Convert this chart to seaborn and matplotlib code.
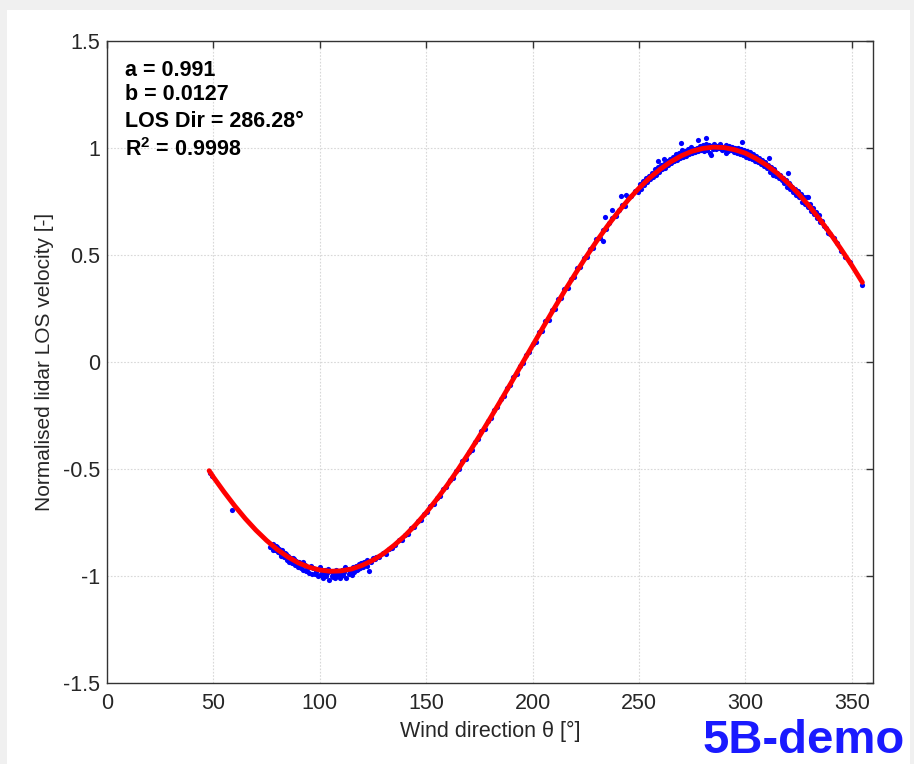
import matplotlib
matplotlib.use("Agg")
import matplotlib.pyplot as plt
import seaborn as sns
import pandas as pd
from matplotlib.patches import Rectangle

# ---------------- data ----------------
fit_theta = [48, 50, 55, 60, 65, 70, 75, 80, 85, 90, 95, 100, 105, 110, 115, 120,
             125, 130, 135, 140, 145, 150, 155, 160, 165, 170, 175, 180, 185, 190,
             195, 200, 205, 210, 215, 220, 225, 230, 235, 240, 245, 250, 255, 260,
             265, 270, 275, 280, 285, 290, 295, 300, 305, 310, 315, 320, 325, 330,
             335, 340, 345, 350, 355]
fit_vel = [-0.508, -0.538, -0.607, -0.672, -0.732, -0.786, -0.834, -0.876, -0.911,
           -0.939, -0.959, -0.972, -0.978, -0.976, -0.967, -0.950, -0.926, -0.895,
           -0.856, -0.812, -0.761, -0.704, -0.641, -0.574, -0.502, -0.426, -0.347,
           -0.265, -0.181, -0.096, -0.009, 0.077, 0.163, 0.248, 0.331, 0.411, 0.489,
           0.563, 0.633, 0.698, 0.758, 0.812, 0.860, 0.901, 0.936, 0.964, 0.985,
           0.998, 1.004, 1.002, 0.992, 0.976, 0.951, 0.920, 0.882, 0.837, 0.786,
           0.729, 0.666, 0.599, 0.527, 0.452, 0.372]

meas_theta = [
    48.6, 49.2, 58.7, 76.5, 77.2, 78.0,
    78.2, 79.0, 79.6, 80.3, 81.0, 81.7, 82.4, 83.0, 83.7, 84.4, 85.0, 85.6, 86.3, 87.0,
    87.6, 88.3, 89.0, 89.6, 90.3, 91.0, 91.6, 92.3, 93.0, 93.6, 94.3, 95.0, 95.6, 96.3,
    97.0, 97.6, 98.3, 99.0, 99.6, 100.3, 101.0, 101.6, 102.3, 103.0, 103.6, 104.3, 105.0,
    105.6, 106.3, 107.0, 107.6, 108.3, 109.0, 109.6, 110.3, 111.0, 111.6, 112.3, 113.0,
    113.6, 114.3, 115.0, 115.6, 116.3, 117.0, 117.6, 118.3, 119.0, 119.6, 120.3, 121.0,
    121.6, 122.3, 123.0, 123.6, 124.3,
    80.0, 82.0, 84.0, 86.0, 88.0, 90.0, 92.0, 94.0, 96.0, 98.0, 100.0, 102.0, 104.0,
    106.0, 108.0, 110.0, 112.0, 114.0, 116.0, 118.0, 120.0, 122.0, 125.0, 126.0,
    126.5, 128.0, 129.5, 131.0, 132.5, 134.0, 135.5, 137.0, 138.5, 140.0, 141.5, 143.0,
    144.5, 146.0, 147.5, 149.0, 150.5, 152.0, 153.5, 155.0, 156.5, 158.0, 159.5, 161.0,
    162.5, 164.0, 165.5, 167.0, 168.5, 170.0, 171.5, 173.0, 174.5, 176.0, 177.5, 179.0,
    180.5, 182.0, 183.5, 185.0, 186.5, 188.0, 189.5, 191.0, 192.5, 194.0, 195.5, 197.0,
    198.5, 200.0, 201.5, 203.0, 204.5, 206.0, 207.5, 209.0, 210.5, 212.0, 213.5, 215.0,
    216.5, 218.0, 219.5, 221.0, 222.5, 224.0, 225.5, 227.0, 228.5, 230.0, 231.5, 233.0,
    234.5, 236.0, 237.5, 239.0, 240.5, 242.0, 243.5, 245.0, 246.5, 248.0, 249.5,
    234.0, 237.3, 241.5, 244.0, 232.9,
    250.5, 251.2, 251.9, 252.6, 253.3, 254.0, 254.7, 255.4, 256.1, 256.8, 257.5, 258.2,
    258.9, 259.6, 260.3, 261.0, 261.7, 262.4, 263.1, 263.8, 264.5, 265.2, 265.9, 266.6,
    267.3, 268.0, 268.7, 269.4, 270.1, 270.8, 271.5, 272.2, 272.9, 273.6, 274.3, 275.0,
    275.7, 276.4, 277.1, 277.8, 278.5, 279.2, 279.9, 280.6, 281.3, 282.0, 282.7, 283.4,
    284.1, 284.8, 285.5, 286.2, 286.9, 287.6, 288.3, 289.0, 289.7, 290.4, 291.1, 291.8,
    292.5, 293.2, 293.9, 294.6, 295.3, 296.0, 296.7, 297.4, 298.1, 298.8, 299.5, 300.2,
    300.9, 301.6, 302.3, 303.0, 303.7, 304.4, 305.1, 305.8, 306.5, 307.2, 307.9, 308.6,
    309.3, 310.0, 310.7, 311.4, 312.1, 312.8, 313.5, 314.2, 314.9, 315.6, 316.3, 317.0,
    317.7, 318.4, 319.1, 319.8, 320.5, 321.2, 321.9, 322.6, 323.3, 324.0, 324.7, 325.4,
    326.1, 326.8, 327.5, 328.2, 328.9, 329.6, 330.3, 331.0, 331.7, 332.4, 333.1, 333.8,
    334.5, 335.2, 336.0, 337.0, 338.0, 339.0, 340.0, 341.5, 343.0, 345.0, 347.0, 349.0,
    355.0,
    255.0, 258.0, 261.0, 264.0, 267.0, 270.0, 273.0, 276.0, 279.0, 282.0, 285.0, 288.0,
    291.0, 294.0, 297.0, 300.0, 303.0, 306.0, 309.0, 312.0, 315.0, 318.0, 321.0, 324.0,
    327.0, 330.0,
    269.7, 277.7, 281.5, 283.8, 290.9, 298.4, 311.0, 320.0, 329.4, 262.0, 259.0,
]
meas_vel = [
    -0.520, -0.535, -0.690, -0.865, -0.855, -0.880,
    -0.850, -0.880, -0.862, -0.890, -0.872, -0.905, -0.880, -0.910, -0.892, -0.925,
    -0.905, -0.935, -0.915, -0.940, -0.918, -0.950, -0.930, -0.958, -0.935, -0.962,
    -0.945, -0.970, -0.948, -0.975, -0.957, -0.985, -0.960, -0.990, -0.962, -0.992,
    -0.970, -1.000, -0.968, -0.995, -0.978, -1.010, -0.972, -1.000, -0.985, -1.020,
    -0.975, -0.998, -0.990, -1.010, -0.972, -0.995, -0.985, -1.008, -0.970, -0.995,
    -0.982, -1.010, -0.965, -0.990, -0.975, -0.993, -0.960, -0.980, -0.955, -0.970,
    -0.945, -0.962, -0.940, -0.958, -0.935, -0.950, -0.925, -0.975, -0.930, -0.935,
    -0.865, -0.900, -0.895, -0.930, -0.920, -0.950, -0.935, -0.968, -0.952, -0.980,
    -0.960, -0.990, -0.965, -1.005, -0.985, -1.000, -0.960, -0.985, -0.972, -0.965,
    -0.940, -0.955, -0.915, -0.920,
    -0.910, -0.912, -0.893, -0.895, -0.872, -0.868, -0.855, -0.830, -0.830, -0.808,
    -0.803, -0.775, -0.770, -0.745, -0.738, -0.710, -0.700, -0.672, -0.665, -0.636,
    -0.628, -0.594, -0.585, -0.553, -0.543, -0.510, -0.500, -0.464, -0.455, -0.420,
    -0.410, -0.372, -0.360, -0.322, -0.312, -0.275, -0.262, -0.225, -0.210, -0.172,
    -0.160, -0.122, -0.108, -0.070, -0.057, -0.018, -0.005, 0.035, 0.045, 0.085,
    0.095, 0.138, 0.145, 0.190, 0.198, 0.242, 0.250, 0.295, 0.300, 0.342, 0.347,
    0.390, 0.395, 0.440, 0.445, 0.485, 0.490, 0.530, 0.535, 0.575, 0.578, 0.615,
    0.620, 0.650, 0.672, 0.680, 0.710, 0.735, 0.730, 0.770, 0.775, 0.800, 0.795,
    0.678, 0.710, 0.776, 0.780, 0.565,
    0.830, 0.810, 0.845, 0.825, 0.862, 0.840, 0.870, 0.855, 0.885, 0.865, 0.900, 0.875,
    0.910, 0.890, 0.920, 0.900, 0.925, 0.905, 0.940, 0.920, 0.948, 0.930, 0.960, 0.940,
    0.970, 0.945, 0.975, 0.955, 0.990, 0.960, 0.985, 0.962, 0.995, 0.970, 1.005, 0.975,
    0.995, 0.980, 1.000, 0.985, 1.010, 0.990, 1.015, 0.985, 1.020, 0.990, 1.015, 0.975,
    1.010, 0.995, 1.020, 0.995, 1.010, 0.998, 1.020, 0.990, 1.005, 0.995, 1.015, 0.985,
    1.010, 0.990, 1.005, 0.980, 1.000, 0.975, 1.000, 0.970, 0.995, 0.968, 0.990, 0.960,
    0.985, 0.955, 0.980, 0.948, 0.970, 0.940, 0.962, 0.935, 0.955, 0.925, 0.945, 0.915,
    0.935, 0.905, 0.920, 0.890, 0.910, 0.875, 0.900, 0.870, 0.885, 0.860, 0.875, 0.850,
    0.860, 0.835, 0.850, 0.820, 0.835, 0.810, 0.820, 0.795, 0.810, 0.780, 0.800, 0.770,
    0.785, 0.750, 0.770, 0.740, 0.770, 0.725, 0.740, 0.705, 0.720, 0.690, 0.700, 0.675,
    0.685, 0.655, 0.660, 0.635, 0.625, 0.605, 0.600, 0.580, 0.555, 0.520, 0.490, 0.465,
    0.360,
    0.870, 0.890, 0.915, 0.935, 0.955, 0.970, 0.985, 0.990, 1.000, 1.005, 1.005, 1.000,
    1.000, 0.995, 0.985, 0.970, 0.960, 0.945, 0.925, 0.900, 0.880, 0.850, 0.825, 0.795,
    0.760, 0.735,
    1.025, 1.037, 1.047, 0.967, 0.976, 1.028, 0.953, 0.883, 0.771, 0.950, 0.940,
]

annot_lines = ["a = 0.991", "b = 0.0127", "LOS Dir = 286.28°", "R$^2$ = 0.9998"]
x_ticks = [0, 50, 100, 150, 200, 250, 300, 350]
y_ticks = [-1.5, -1, -0.5, 0, 0.5, 1, 1.5]
y_tick_labels = ["-1.5", "-1", "-0.5", "0", "0.5", "1", "1.5"]

# ---------------- plotting ----------------
sns.set_style("white")
plt.rcParams["font.family"] = ["Liberation Sans", "DejaVu Sans"]
plt.rcParams["mathtext.fontset"] = "custom"
plt.rcParams["mathtext.rm"] = "Liberation Sans:bold"
plt.rcParams["mathtext.bf"] = "Liberation Sans:bold"
plt.rcParams["mathtext.it"] = "Liberation Sans:bold"

fig = plt.figure(figsize=(9.14, 7.64), dpi=100, facecolor="#f0f0f0")
fig.patches.append(Rectangle((7 / 914, 0), 903 / 914, 754 / 764, transform=fig.transFigure,
                             facecolor="white", edgecolor="none", zorder=-10))
ax = fig.add_axes([107 / 914, 1 - 683 / 764, 766 / 914, 642 / 764])
ax.set_facecolor("white")

meas = pd.DataFrame({"theta": meas_theta, "vel": meas_vel})
fit = pd.DataFrame({"theta": fit_theta, "vel": fit_vel})

sns.scatterplot(data=meas, x="theta", y="vel", ax=ax, color="#0000ff", s=14,
                linewidth=0, zorder=3)
sns.lineplot(data=fit, x="theta", y="vel", ax=ax, color="#ff0000", linewidth=3.5,
             zorder=4, sort=True, estimator=None)

ax.set_xlim(0, 360)
ax.set_ylim(-1.5, 1.5)
ax.set_xticks(x_ticks)
ax.set_yticks(y_ticks)
ax.set_yticklabels(y_tick_labels)
ax.grid(True, linestyle=(0, (1.5, 1.5)), color="#d8d8d8", linewidth=0.8, zorder=0)
ax.set_axisbelow(True)
ax.tick_params(direction="in", length=5, width=1, top=True, right=True,
               labelsize=15.5, color="#333333", pad=5)
ax.tick_params(axis="x", pad=7)
for sp in ax.spines.values():
    sp.set_visible(True)
    sp.set_color("#333333")
    sp.set_linewidth(1.0)

ax.set_xlabel("Wind direction θ [°]", fontsize=15.5, labelpad=5)
ax.set_ylabel("Normalised lidar LOS velocity [-]", fontsize=15, labelpad=6)

ann_y = [1.364, 1.248, 1.126, 0.991]
for txt, yy in zip(annot_lines, ann_y):
    ax.text(8.3, yy, txt, fontsize=15.5, fontweight="bold", va="center", ha="left",
            color="black", zorder=6)

fig.text(905 / 914, 1 / 764, "5B-demo", color="#1a1aff", fontsize=34,
         fontweight="bold", ha="right", va="bottom")

fig.savefig("out.png", dpi=100, facecolor=fig.get_facecolor())
